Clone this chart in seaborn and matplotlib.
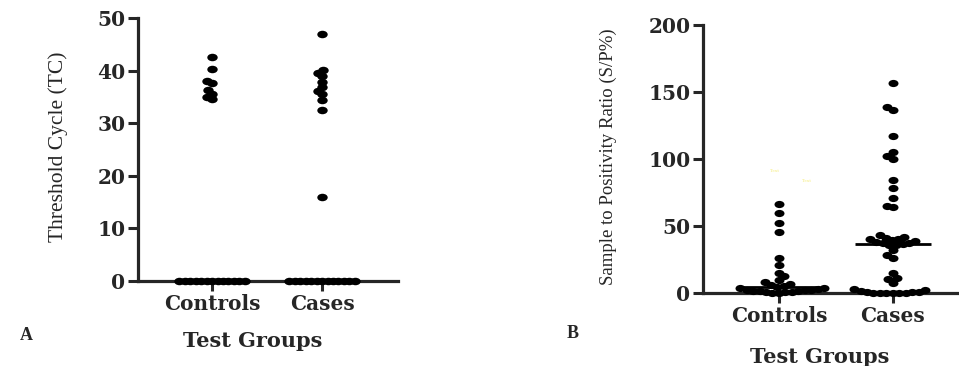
import numpy as np
import pandas as pd
import matplotlib
matplotlib.use("Agg")
import matplotlib.pyplot as plt
from matplotlib.collections import PathCollection
from matplotlib.path import Path
from matplotlib.transforms import Affine2D
import seaborn as sns

groups = ["Controls", "Cases"]

# panel A: threshold cycle
tc_controls = [42.6, 40.3, 38.1, 37.6, 36.3, 35.6, 35.0, 34.6,
               0, 0, 0, 0, 0, 0, 0, 0, 0, 0, 0, 0, 0]
tc_cases = [47.0, 40.1, 39.6, 38.9, 37.9, 36.9, 36.1, 35.5, 34.4, 32.5, 16.0,
            0, 0, 0, 0, 0, 0, 0, 0, 0, 0, 0, 0, 0]

# panel B: sample to positivity ratio
sp_controls = [66.5, 60.0, 52.5, 45.8, 26.0, 21.0, 15.0, 12.5, 10.0, 8.0,
               7.0, 6.0, 5.0, 4.5, 4.0, 3.5, 3.0, 2.5, 2.2, 2.0,
               1.7, 1.5, 1.2, 1.0, 0.7, 0.4, 0.2, 0.0]
sp_cases = [157.0, 138.6, 136.6, 117.5, 105.5, 102.0, 100.0, 84.5, 78.0, 71.0,
            65.0, 64.0, 43.0, 42.0, 41.0, 40.5, 40.0, 39.5, 38.5, 38.0, 37.5,
            37.0, 36.5, 36.0, 35.5, 32.0, 28.5, 26.0, 15.0, 11.0, 10.5, 7.5,
            3.0, 2.0, 1.5, 1.0, 0.5, 0.5, 0.3, 0.2, 0.0, 0.0, 0.0, 0.0]


def long_frame(ctrl, case):
    return pd.DataFrame({
        "group": ["Controls"] * len(ctrl) + ["Cases"] * len(case),
        "value": list(ctrl) + list(case),
    })


# slightly flattened dots, like the original export
dot = Path.unit_circle().transformed(Affine2D().scale(1, 0.72))

sns.set_style("ticks")
plt.rcParams["font.family"] = ["DejaVu Serif"]

fig = plt.figure(figsize=(9.59, 3.66), dpi=100)
ax1 = fig.add_axes([138 / 959, 1 - 281 / 366, 260 / 959, 263 / 366])
ax2 = fig.add_axes([703 / 959, 1 - 293 / 366, 256 / 959, 268 / 366])


def draw_panel(ax, df, ylim, yticks, ylabel, ylabel_size, xlim, size, packing):
    sns.swarmplot(data=df, x="group", y="value", order=groups, color="black",
                  size=size, marker=dot, ax=ax, clip_on=False, zorder=3,
                  warn_thresh=1)
    # let the swarm pack the dots tighter than their drawn size (overlapping)
    for pts in ax.collections:
        if isinstance(pts, PathCollection):
            real = pts.get_sizes().copy()
            pts.get_sizes = lambda r=real: r * packing ** 2
    for i, g in enumerate(groups):
        med = np.median(df.loc[df["group"] == g, "value"])
        ax.hlines(med, i - 0.33, i + 0.33, color="black", lw=2, zorder=2,
                  clip_on=False)
    ax.set_ylim(*ylim)
    ax.set_xlim(*xlim)
    ax.set_yticks(yticks)
    sns.despine(ax=ax)
    for side in ["left", "bottom"]:
        ax.spines[side].set_linewidth(2.3)
    ax.tick_params(axis="both", length=7, width=2.2, pad=2)
    for lab in ax.get_yticklabels() + ax.get_xticklabels():
        lab.set_fontweight("bold")
        lab.set_fontsize(14.5)
    ax.set_ylabel(ylabel, family="Liberation Serif", fontsize=ylabel_size)
    ax.set_xlabel("Test Groups", fontsize=15, fontweight="bold")


draw_panel(ax1, long_frame(tc_controls, tc_cases), (0, 50),
           range(0, 51, 10), "Threshold Cycle (TC)", 15.5, (-0.673, 1.69),
           7.5, 0.5)
ax1.yaxis.set_label_coords(-0.27, 0.51)
ax1.xaxis.set_label_coords(0.44, -0.19)

draw_panel(ax2, long_frame(sp_controls, sp_cases), (0, 200),
           range(0, 201, 50), "Sample to Positivity Ratio (S/P%)", 13.5,
           (-0.667, 1.58), 7.2, 0.62)
ax2.yaxis.set_label_coords(-0.336, 0.51)
ax2.xaxis.set_label_coords(0.457, -0.2)

# faint stray labels in panel B
ax2.text(-0.08, 90, "Text", color="#f5ec7a", fontsize=3)
ax2.text(0.2, 83, "Text", color="#f5ec7a", fontsize=3)

fig.text(20 / 959, 1 - 335 / 366, "A", fontsize=13, fontweight="bold",
         va="center", family="Liberation Serif")
fig.text(567 / 959, 1 - 333 / 366, "B", fontsize=13, fontweight="bold",
         va="center", family="Liberation Serif")

fig.savefig("out.png", dpi=100)
